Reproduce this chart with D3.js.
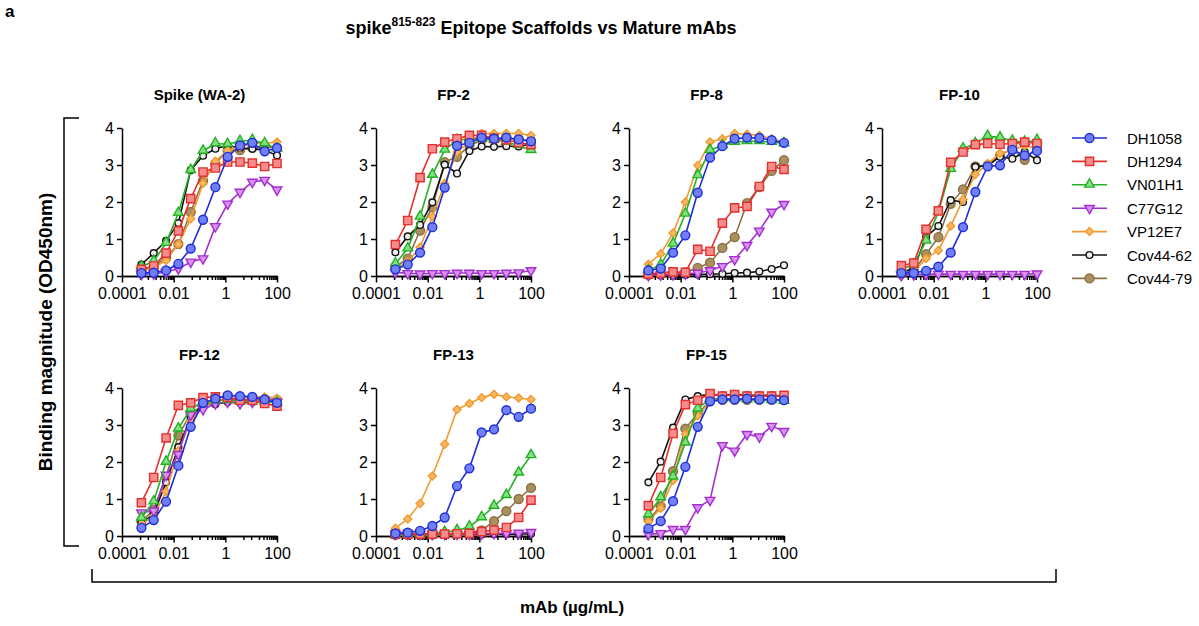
<!DOCTYPE html>
<html>
<head>
<meta charset="utf-8">
<script src="https://cdn.jsdelivr.net/npm/d3@7"></script>
<style>
  body { margin: 0; background: #fff; }
  text { font-family: Arial, "Liberation Sans", sans-serif; fill: #000; }
  .axis text { font-size: 16px; }
  .axis path, .axis line { stroke: #000; stroke-width: 1.5px; }
  .ptitle { font-size: 15px; font-weight: bold; }
</style>
</head>
<body>
<div id="chart"></div>
<script>
// 3-fold serial dilution, ug/mL
var conc = [0.000564, 0.00169, 0.00508, 0.0152, 0.0457, 0.137, 0.412, 1.23, 3.70, 11.1, 33.3, 100];

var antibodies = ["DH1058", "DH1294", "VN01H1", "C77G12", "VP12E7", "Cov44-62", "Cov44-79"];
var panels = ["Spike (WA-2)", "FP-2", "FP-8", "FP-10", "FP-12", "FP-13", "FP-15"];

var xTicks = [0.0001, 0.01, 1, 100];
var xTickLabels = ["0.0001", "0.01", "1", "100"];
var yTicks = [0, 1, 2, 3, 4];

// OD450 per panel, one row per antibody in the order above
var spikeWA2 = [
  [0.08, 0.09, 0.15, 0.33, 0.74, 1.52, 2.40, 3.22, 3.53, 3.60, 3.37, 3.46],
  [0.18, 0.27, 0.62, 1.22, 2.09, 2.81, 2.92, 3.08, 3.08, 3.05, 2.96, 3.04],
  [0.25, 0.40, 0.89, 1.70, 2.86, 3.38, 3.58, 3.56, 3.64, 3.67, 3.58, 3.44],
  [0.05, 0.06, 0.10, 0.20, 0.38, 0.47, 1.34, 1.95, 2.27, 2.54, 2.59, 2.33],
  [0.15, 0.22, 0.42, 0.86, 1.55, 2.50, 3.10, 3.40, 3.48, 3.58, 3.58, 3.62],
  [0.31, 0.62, 0.95, 1.43, 2.86, 3.25, 3.44, 3.53, 3.46, 3.44, 3.40, 3.26],
  [0.20, 0.25, 0.50, 0.86, 1.73, 2.58, 3.04, 3.40, 3.40, 3.46, 3.50, 3.45]
];
var fp2 = [
  [0.18, 0.31, 0.63, 1.32, 2.39, 3.52, 3.60, 3.74, 3.71, 3.74, 3.69, 3.64],
  [0.85, 1.50, 2.66, 3.44, 3.62, 3.71, 3.80, 3.80, 3.72, 3.68, 3.60, 3.55],
  [0.33, 0.74, 1.60, 2.73, 3.41, 3.67, 3.71, 3.71, 3.69, 3.62, 3.53, 3.40],
  [0.10, 0.07, 0.06, 0.07, 0.07, 0.08, 0.08, 0.07, 0.07, 0.08, 0.09, 0.15],
  [0.20, 0.38, 0.78, 1.60, 2.50, 3.35, 3.62, 3.85, 3.85, 3.85, 3.85, 3.80],
  [0.64, 1.07, 1.38, 1.99, 3.01, 2.77, 3.38, 3.50, 3.49, 3.51, 3.50, 3.57],
  [0.25, 0.47, 1.23, 1.86, 3.08, 3.22, 3.53, 3.67, 3.70, 3.72, 3.70, 3.65]
];
var fp8 = [
  [0.15, 0.20, 0.63, 1.10, 2.25, 3.20, 3.51, 3.71, 3.74, 3.73, 3.67, 3.60],
  [0.05, 0.08, 0.11, 0.10, 0.72, 0.67, 1.43, 1.84, 1.88, 2.42, 2.96, 2.88],
  [0.15, 0.30, 0.87, 1.68, 2.72, 3.40, 3.53, 3.62, 3.64, 3.64, 3.62, 3.58],
  [0.02, 0.03, 0.04, 0.06, 0.08, 0.15, 0.26, 0.45, 0.83, 1.22, 1.73, 1.94],
  [0.32, 0.60, 1.16, 2.00, 2.99, 3.62, 3.71, 3.85, 3.83, 3.80, 3.71, 3.62],
  [0.02, 0.02, 0.03, 0.03, 0.04, 0.05, 0.06, 0.08, 0.09, 0.12, 0.19, 0.29],
  [0.03, 0.04, 0.05, 0.10, 0.22, 0.36, 0.76, 1.05, 1.97, 2.40, 2.84, 3.13]
];
var fp10 = [
  [0.08, 0.08, 0.14, 0.25, 0.63, 1.32, 2.27, 2.96, 2.99, 3.41, 3.26, 3.38],
  [0.28, 0.35, 1.26, 1.76, 3.07, 3.35, 3.55, 3.58, 3.56, 3.58, 3.62, 3.58],
  [0.20, 0.30, 0.95, 1.73, 2.89, 3.44, 3.58, 3.78, 3.74, 3.65, 3.62, 3.67],
  [0.02, 0.04, 0.05, 0.05, 0.05, 0.05, 0.05, 0.05, 0.05, 0.05, 0.05, 0.06],
  [0.05, 0.12, 0.47, 0.69, 1.35, 2.07, 2.74, 3.04, 3.32, 3.40, 3.53, 3.44],
  [0.10, 0.20, 1.05, 1.35, 2.05, 2.00, 2.95, 2.99, 3.22, 3.17, 3.35, 3.13],
  [0.05, 0.15, 0.59, 1.05, 1.95, 2.34, 2.96, 2.99, 3.26, 3.44, 3.14, 3.49]
];
var fp12 = [
  [0.22, 0.43, 0.93, 1.90, 2.95, 3.60, 3.71, 3.80, 3.78, 3.76, 3.69, 3.60],
  [0.90, 1.58, 2.65, 3.53, 3.60, 3.74, 3.76, 3.74, 3.67, 3.67, 3.58, 3.51],
  [0.49, 0.93, 2.00, 2.90, 3.44, 3.62, 3.67, 3.67, 3.64, 3.64, 3.62, 3.60],
  [0.63, 0.68, 1.65, 2.21, 3.28, 3.42, 3.58, 3.62, 3.58, 3.62, 3.67, 3.62],
  [0.30, 0.55, 1.20, 2.30, 3.10, 3.50, 3.62, 3.72, 3.75, 3.76, 3.76, 3.72],
  [0.35, 0.60, 1.45, 2.40, 3.20, 3.55, 3.56, 3.62, 3.60, 3.62, 3.65, 3.60],
  [0.40, 0.70, 1.60, 2.72, 3.30, 3.55, 3.65, 3.70, 3.68, 3.70, 3.70, 3.68]
];
var fp13 = [
  [0.07, 0.09, 0.14, 0.27, 0.50, 1.35, 1.83, 2.80, 2.88, 3.40, 3.22, 3.44],
  [0.05, 0.05, 0.05, 0.05, 0.05, 0.06, 0.07, 0.12, 0.16, 0.23, 0.50, 0.97],
  [0.02, 0.03, 0.05, 0.07, 0.10, 0.15, 0.25, 0.50, 0.81, 1.10, 1.71, 2.18],
  [0.05, 0.05, 0.05, 0.05, 0.05, 0.05, 0.05, 0.06, 0.07, 0.07, 0.08, 0.10],
  [0.21, 0.46, 0.88, 1.62, 2.48, 3.42, 3.58, 3.74, 3.83, 3.76, 3.73, 3.69],
  [0.04, 0.04, 0.04, 0.04, 0.04, 0.04, 0.04, 0.04, 0.05, 0.05, 0.05, 0.06],
  [0.03, 0.03, 0.04, 0.04, 0.05, 0.06, 0.08, 0.15, 0.40, 0.67, 1.00, 1.30]
];
var fp15 = [
  [0.20, 0.40, 0.94, 1.87, 2.95, 3.64, 3.69, 3.69, 3.71, 3.69, 3.69, 3.67],
  [0.82, 1.58, 2.77, 3.55, 3.67, 3.85, 3.78, 3.82, 3.78, 3.78, 3.78, 3.80],
  [0.58, 1.04, 1.60, 2.52, 3.44, 3.71, 3.71, 3.71, 3.69, 3.69, 3.67, 3.65],
  [0.05, 0.07, 0.18, 0.18, 0.77, 0.97, 2.45, 2.30, 2.75, 2.68, 2.97, 2.83],
  [0.39, 0.75, 1.50, 2.75, 3.25, 3.62, 3.70, 3.70, 3.70, 3.70, 3.69, 3.68],
  [1.45, 2.01, 2.93, 3.69, 3.78, 3.83, 3.80, 3.83, 3.80, 3.80, 3.80, 3.78],
  [0.45, 0.80, 1.75, 2.90, 3.31, 3.65, 3.68, 3.68, 3.68, 3.68, 3.68, 3.68]
];
var panelData = [spikeWA2, fp2, fp8, fp10, fp12, fp13, fp15];

var strokes = ["#1f2fd6", "#e3302c", "#25b025", "#a32fd0", "#f29a2e", "#111111", "#8a7045"];
var fills   = ["#6f7ff5", "#f58c8c", "#82e082", "#d891ef", "#f7b865", "#eeeeee", "#ab8f5e"];
var shapes  = ["circle", "square", "triangle", "triangleDown", "diamond", "smallCircle", "circle"];

var colX = [122, 376, 629, 882];
var rowY = [128, 388];
var pw = 155, ph = 148;

var svg = d3.select("#chart").append("svg")
  .attr("width", 1199)
  .attr("height", 626);

function markerPath(shape) {
  if (shape == "square") return d3.symbol(d3.symbolSquare, 68)();
  if (shape == "triangle") return d3.symbol(d3.symbolTriangle, 40)();
  if (shape == "triangleDown") return d3.symbol(d3.symbolTriangle, 40)();
  if (shape == "diamond") return "M0,-4L4,0L0,4L-4,0Z";
  if (shape == "smallCircle") return d3.symbol(d3.symbolCircle, 36)();
  return d3.symbol(d3.symbolCircle, 62)();
}
function markerTransform(shape, px, py) {
  var t = "translate(" + px + "," + py + ")";
  if (shape == "triangleDown") t += " rotate(180)";
  if (shape == "triangle") t += " translate(0,-0.5)";
  return t;
}

// minor ticks: 5x and 10x..90x of each labelled tick
var minorTicks = [];
xTicks.slice(0, -1).forEach(function(t) {
  minorTicks.push(t * 5);
  for (var k = 1; k <= 9; k++) minorTicks.push(t * 10 * k);
});

panels.forEach(function(name, p) {
  var ox = colX[p % 4], oy = rowY[Math.floor(p / 4)];
  var g = svg.append("g").attr("transform", "translate(" + ox + "," + oy + ")");

  var x = d3.scaleLog().domain([0.0001, 100]).range([0, pw]);
  var y = d3.scaleLinear().domain([0, 4]).range([ph, 0]);

  g.append("text")
    .attr("class", "ptitle")
    .attr("x", pw / 2)
    .attr("y", -28)
    .attr("text-anchor", "middle")
    .text(name);

  g.append("g")
    .attr("class", "axis")
    .call(d3.axisLeft(y).tickValues(yTicks).tickSize(5).tickSizeOuter(0).tickPadding(3)
      .tickFormat(d3.format("d")));

  g.append("g")
    .attr("class", "axis")
    .attr("transform", "translate(0," + ph + ")")
    .call(d3.axisBottom(x).tickValues(minorTicks).tickSize(4).tickSizeOuter(0).tickFormat(""));

  g.append("g")
    .attr("class", "axis")
    .attr("transform", "translate(0," + ph + ")")
    .call(d3.axisBottom(x).tickValues(xTicks).tickSize(6.5).tickSizeOuter(0).tickPadding(5)
      .tickFormat(function(d, i) { return xTickLabels[i]; }));

  var line = d3.line()
    .x(function(d, i) { return x(conc[i]); })
    .y(function(d) { return y(d); });

  // last antibody at the bottom, DH1058 on top
  for (var s = antibodies.length - 1; s >= 0; s--) {
    var vals = panelData[p][s];
    var sg = g.append("g");
    sg.append("path")
      .attr("d", line(vals))
      .attr("fill", "none")
      .attr("stroke", strokes[s])
      .attr("stroke-width", 1.6);
    sg.selectAll("path.pt")
      .data(vals)
      .enter()
      .append("path")
      .attr("class", "pt")
      .attr("d", markerPath(shapes[s]))
      .attr("transform", function(d, i) { return markerTransform(shapes[s], x(conc[i]), y(d)); })
      .attr("fill", fills[s])
      .attr("stroke", strokes[s])
      .attr("stroke-width", 1.4);
  }
});

// legend
var legend = svg.append("g").attr("transform", "translate(1072,138)");
antibodies.forEach(function(name, s) {
  var lg = legend.append("g").attr("transform", "translate(0," + (s * 23.4) + ")");
  lg.append("line")
    .attr("x1", 0).attr("x2", 35)
    .attr("stroke", strokes[s])
    .attr("stroke-width", 1.6);
  lg.append("path")
    .attr("d", markerPath(shapes[s]))
    .attr("transform", markerTransform(shapes[s], 17.5, 0))
    .attr("fill", fills[s])
    .attr("stroke", strokes[s])
    .attr("stroke-width", 1.4);
  lg.append("text")
    .attr("x", 55)
    .attr("y", 5.5)
    .style("font-size", "15px")
    .text(name);
});

// brackets
svg.append("path")
  .attr("d", "M79,118H64V546H79")
  .attr("fill", "none").attr("stroke", "#000").attr("stroke-width", 1.5);
svg.append("path")
  .attr("d", "M92,569V582H1056V569")
  .attr("fill", "none").attr("stroke", "#000").attr("stroke-width", 1.5);

svg.append("text")
  .attr("transform", "translate(52,332) rotate(-90)")
  .attr("text-anchor", "middle")
  .style("font-size", "19px")
  .style("font-weight", "bold")
  .text("Binding magnitude (OD450nm)");

svg.append("text")
  .attr("x", 572)
  .attr("y", 613)
  .attr("text-anchor", "middle")
  .style("font-size", "17px")
  .style("font-weight", "bold")
  .text("mAb (µg/mL)");

var title = svg.append("text")
  .attr("x", 541)
  .attr("y", 34)
  .attr("text-anchor", "middle")
  .style("font-size", "18px")
  .style("font-weight", "bold");
title.append("tspan").text("spike");
title.append("tspan").attr("dy", -8).style("font-size", "12px").text("815-823");
title.append("tspan").attr("dy", 8).text(" Epitope Scaffolds vs Mature mAbs");

svg.append("text")
  .attr("x", 5)
  .attr("y", 17)
  .style("font-size", "17px")
  .style("font-weight", "bold")
  .text("a");
</script>
</body>
</html>
